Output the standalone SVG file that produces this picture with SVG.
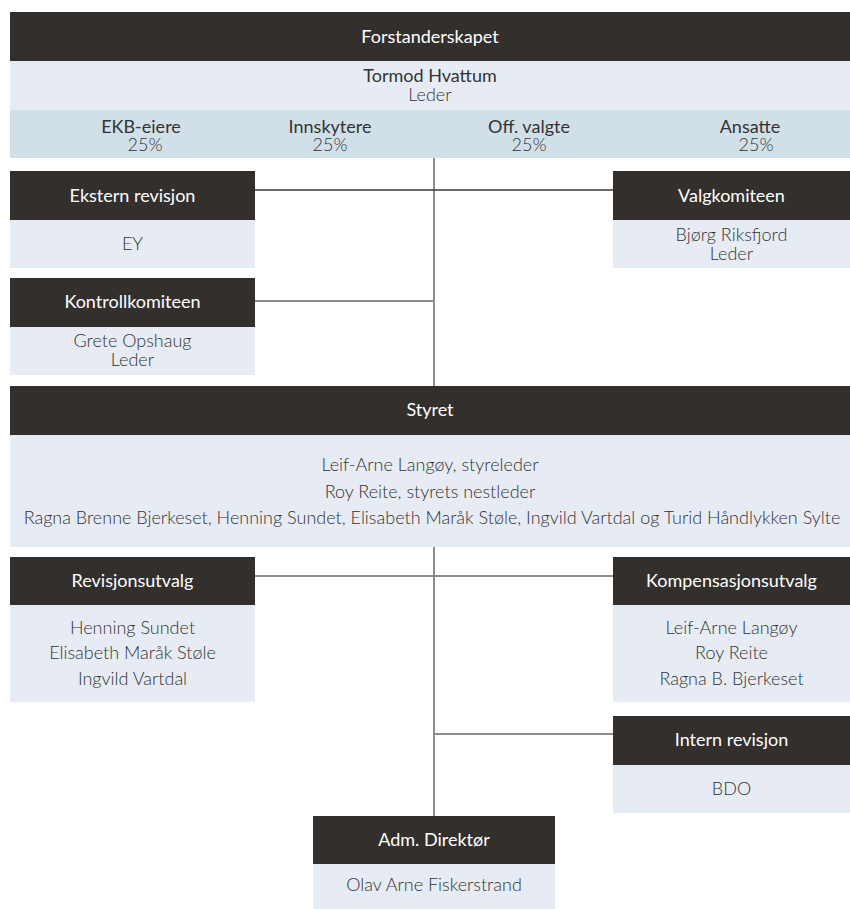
<svg xmlns="http://www.w3.org/2000/svg" width="850" height="909" viewBox="0 0 850 909">
<style>
.hd{fill:#332f2c}
.bd{fill:#e7ecf4}
.bl{fill:#d1dfe8}
.ht{font-family:Lato,"Liberation Sans",sans-serif;font-size:18px;fill:#ffffff;text-anchor:middle}
.bt{font-family:Lato,"Liberation Sans",sans-serif;font-size:18px;font-weight:300;fill:#333333;text-anchor:middle}
.bb{font-family:Lato,"Liberation Sans",sans-serif;font-size:18px;font-weight:400;fill:#333333;text-anchor:middle}
.ln{stroke:#8c8c8c;stroke-width:2;fill:none}
.ld{stroke:#3a3a3a;stroke-width:1.5;fill:none}
</style>
<rect width="850" height="909" fill="#ffffff"/>
<g id="connectors">
<line class="ln" x1="434" y1="158" x2="434" y2="386"/>
<line class="ln" x1="434" y1="547" x2="434" y2="816"/>
<line class="ld" x1="255" y1="190" x2="613" y2="190"/>
<line class="ln" x1="255" y1="301" x2="434" y2="301"/>
<line class="ln" x1="255" y1="576" x2="613" y2="576"/>
<line class="ln" x1="434" y1="734" x2="613" y2="734"/>
</g>
<g id="forstanderskapet">
<rect class="hd" x="10" y="12" width="840" height="49"/>
<rect class="bd" x="10" y="61" width="840" height="49"/>
<rect class="bl" x="10" y="110" width="840" height="48"/>
<text class="ht" x="430" y="43">Forstanderskapet</text>
<text class="bb" x="430" y="82">Tormod Hvattum</text>
<text class="bt" x="430" y="101">Leder</text>
<text class="bb" x="141" y="133">EKB-eiere</text>
<text class="bt" x="145" y="151">25%</text>
<text class="bb" x="330" y="133">Innskytere</text>
<text class="bt" x="330" y="151">25%</text>
<text class="bb" x="529" y="133">Off. valgte</text>
<text class="bt" x="529" y="151">25%</text>
<text class="bb" x="750" y="133">Ansatte</text>
<text class="bt" x="756" y="151">25%</text>
</g>
<g id="ekstern-revisjon">
<rect class="hd" x="10" y="171" width="245" height="49"/>
<rect class="bd" x="10" y="220" width="245" height="48"/>
<text class="ht" x="132.5" y="202">Ekstern revisjon</text>
<text class="bt" x="132.5" y="250">EY</text>
</g>
<g id="valgkomiteen">
<rect class="hd" x="613" y="171" width="237" height="49"/>
<rect class="bd" x="613" y="220" width="237" height="48"/>
<text class="ht" x="731.5" y="202">Valgkomiteen</text>
<text class="bt" x="731.5" y="241">Bjørg Riksfjord</text>
<text class="bt" x="731.5" y="260">Leder</text>
</g>
<g id="kontrollkomiteen">
<rect class="hd" x="10" y="278" width="245" height="49"/>
<rect class="bd" x="10" y="327" width="245" height="48"/>
<text class="ht" x="132.5" y="308">Kontrollkomiteen</text>
<text class="bt" x="132.5" y="347">Grete Opshaug</text>
<text class="bt" x="132.5" y="366">Leder</text>
</g>
<g id="styret">
<rect class="hd" x="10" y="386" width="840" height="49"/>
<rect class="bd" x="10" y="435" width="840" height="112"/>
<text class="ht" x="430" y="416">Styret</text>
<text class="bt" x="430" y="471">Leif-Arne Langøy, styreleder</text>
<text class="bt" x="430" y="498">Roy Reite, styrets nestleder</text>
<text class="bt" x="432" y="524">Ragna Brenne Bjerkeset, Henning Sundet, Elisabeth Maråk Støle, Ingvild Vartdal og Turid Håndlykken Sylte</text>
</g>
<g id="revisjonsutvalg">
<rect class="hd" x="10" y="557" width="245" height="48"/>
<rect class="bd" x="10" y="605" width="245" height="97"/>
<text class="ht" x="132.5" y="587">Revisjonsutvalg</text>
<text class="bt" x="132.5" y="634">Henning Sundet</text>
<text class="bt" x="132.5" y="659">Elisabeth Maråk Støle</text>
<text class="bt" x="132.5" y="685">Ingvild Vartdal</text>
</g>
<g id="kompensasjonsutvalg">
<rect class="hd" x="613" y="557" width="237" height="48"/>
<rect class="bd" x="613" y="605" width="237" height="97"/>
<text class="ht" x="731.5" y="587">Kompensasjonsutvalg</text>
<text class="bt" x="731.5" y="634">Leif-Arne Langøy</text>
<text class="bt" x="731.5" y="659">Roy Reite</text>
<text class="bt" x="731.5" y="685">Ragna B. Bjerkeset</text>
</g>
<g id="intern-revisjon">
<rect class="hd" x="613" y="716" width="237" height="49"/>
<rect class="bd" x="613" y="765" width="237" height="48"/>
<text class="ht" x="731.5" y="746">Intern revisjon</text>
<text class="bt" x="731.5" y="795">BDO</text>
</g>
<g id="adm-direktor">
<rect class="hd" x="313" y="816" width="242" height="48"/>
<rect class="bd" x="313" y="864" width="242" height="45"/>
<text class="ht" x="434" y="846">Adm. Direktør</text>
<text class="bt" x="434" y="891">Olav Arne Fiskerstrand</text>
</g>
</svg>
